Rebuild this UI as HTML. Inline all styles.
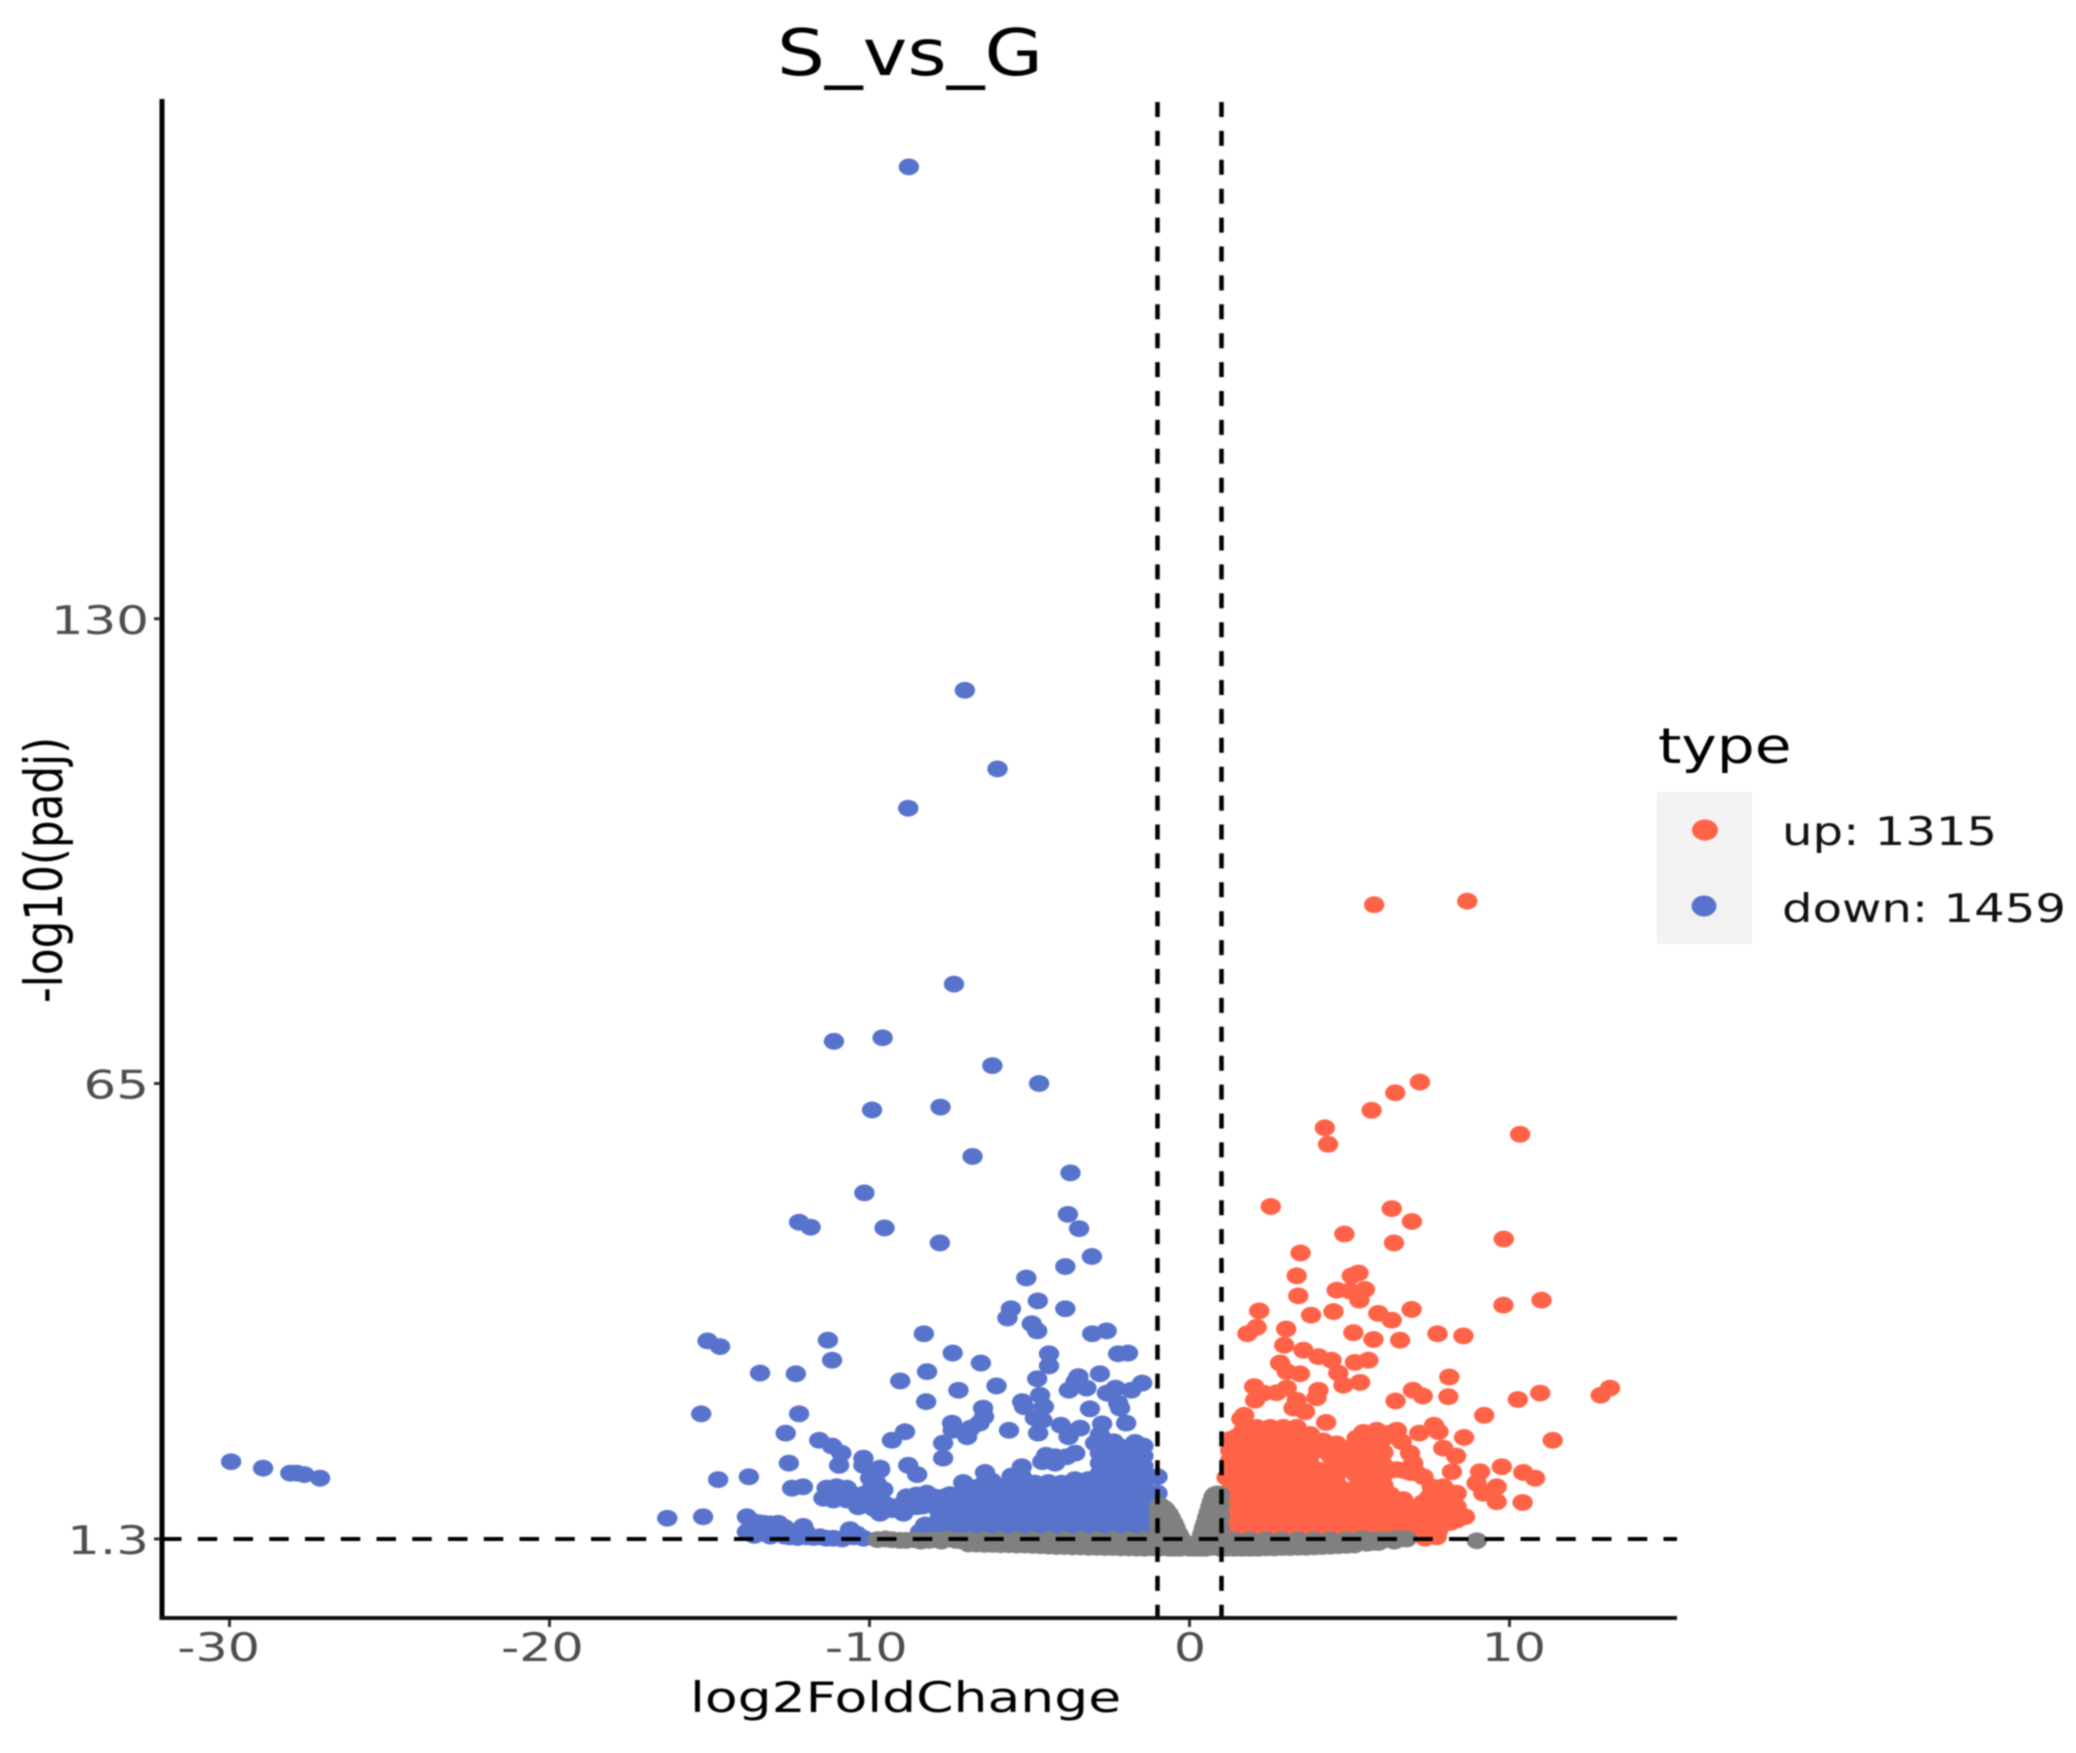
<!DOCTYPE html>
<html lang="en">
<head>
<meta charset="utf-8">
<title>S_vs_G volcano plot</title>
<style>
html,body{margin:0;padding:0;background:#fff;}
#chart{display:block;width:2076px;height:1753px;filter:blur(0.8px);}
text{font-family:"DejaVu Sans","Liberation Sans",sans-serif;}
</style>
</head>
<body>
<svg id="chart" xmlns="http://www.w3.org/2000/svg" width="2076" height="1753" viewBox="0 0 2076 1753">
  <g id="marks"></g>
  <g id="guides"></g>
  <rect x="159.5" y="99" width="5" height="1521" fill="#000"/>
  <rect x="160" y="1616" width="1517" height="4" fill="#111"/>
  <g id="axes"></g>
  <text transform="translate(777,75) scale(1.18,1)" font-size="64" fill="#000">S_vs_G</text>
  <text transform="translate(690,1712) scale(1.275,1)" font-size="42" fill="#000">log2FoldChange</text>
  <text transform="translate(62,1003) rotate(-90) scale(0.83,1)" font-size="52.6" fill="#000">-log10(padj)</text>
  <g>
    <text transform="translate(1658,763) scale(1.22,1)" font-size="49" fill="#000">type</text>
    <rect x="1657" y="792" width="95" height="152" fill="#f2f2f2"/>
    <ellipse cx="1705" cy="830" rx="13" ry="10.5" fill="#FF6347"/>
    <ellipse cx="1704" cy="906" rx="12.5" ry="10.5" fill="#5773CC"/>
    <text transform="translate(1782,845) scale(1.235,1)" font-size="39" fill="#111">up: 1315</text>
    <text transform="translate(1782,922) scale(1.235,1)" font-size="39" fill="#111">down: 1459</text>
  </g>
</svg>
<script>
const xTicks = [-30, -20, -10, 0, 10];
const xTickLabels = ['-30', '-20', '-10', '0', '10'];
const yTicks = [1.3, 65, 130];
const yTickLabels = ['1.3', '65', '130'];
const foldThresholds = [-1, 1];
const padjThreshold = 1.3;

const downPoints = [
[-8.77,193.2],[-7.02,120],[-6,109],[-8.79,103.5],[-7.36,78.9],[-11.11,70.9],[-9.59,71.4],[-6.16,67.5],[-4.7,65],[-9.92,61.3],[-7.78,61.7],[-6.78,54.8],[-3.72,52.5],[-10.16,49.7],[-3.8,46.7],[-3.45,44.7],[-12.2,45.6],[-11.84,44.9],[-9.53,44.8],[-7.8,42.7],[-3.05,40.8],[-3.88,39.4],[-5.1,37.8],[-4.74,34.6],[-3.88,33.5],[-5.58,33.5],[-5.69,32.2],[-4.93,31.4],[-4.76,30.4],[-3.04,30],[-2.59,30.4],[-8.3,30],[-15.06,29],[-14.67,28.2],[-11.3,29.1],
[-11.17,26.3],[-4.39,27.2],[-4.39,25.5],[-7.4,27.3],[-6.52,25.9],[-13.42,24.5],[-12.3,24.4],[-8.2,24.7],[-9.04,23.4],[-2.23,27.2],[-1.92,27.3],[-4.76,23.7],[-3.47,24],[-2.8,24.4],[-3.77,22.1],[-3.22,22.4],[-3.56,23.3],[-1.48,23.1],[-1.82,22.1],[-2.31,22.4],[-2.58,21.7],[-6.03,22.7],[-7.22,22.1],[-8.23,20.5],[-4.67,21.4],[-5.23,20.5],[-5.17,19.8],[-4.55,19.8],[-2.23,20.3],[-2.17,19.6],[-3.11,19.5],[-15.26,18.8],[-12.2,18.8],[-6.45,19.6],[-6.42,18.4],[-6.56,17.5],[-7.42,17.5],[-7.4,16.5],[-6.84,16.8],[-6.95,15.6],[-5.64,16.5],[-4.83,18.2],[-4.6,17.9],[-4.73,16.1],[-4.02,17.2],[-3.78,15.6],[-3.42,16.8],[-2.73,17.4],[-1.98,17.5],[-8.89,16.3],[-9.3,15.1],[-12.62,16.1],[-11.57,15.1],[-11.17,14.3],[-10.88,13.3],[-10.95,11.6],[-10.19,12.6],[-10.19,11.6],[-7.7,14.7],[-7.7,12.6],[-12.52,11.9],[-8.79,11.6],[-8.51,10.3],[-9.67,11.2],[-4.48,13],[-4.2,12.8],[-3.57,13.3],[-4.6,12.1],[-4.2,11.9],[-3.84,12.8],[-14.73,9.6],[-13.77,10],[-12.42,8.4],[-12.08,8.6],[-16.32,4.2],[-15.2,4.4],
[-29.95,12.1],[-28.95,11.2],[-28.1,10.5],[-27.9,10.5],[-27.66,10.3],[-27.17,9.8],
[-13.83,4.4],[-13.63,2.6],[-13.83,2.3],[-13.5,3.6],[-13.32,3.5],[-13.32,2.1],[-13.1,3.4],[-12.85,3.5],[-12.85,2.1],[-12.49,1.6],[-12.07,3.05],[-11.96,1.6],[-11.55,1.6],[-11.13,1.4],[-10.61,2.6],[-10.5,1.6],[-10.19,1.4],
[-11.34,8.4],[-11.03,8.6],[-10.71,8.4],[-11.44,7],[-11.13,6.75],[-10.71,6.75],[-10.4,6.75],[-10.35,5.8],[-9.98,9.8],[-9.67,10.95],[-9.78,9.1],[-9.67,7.2],[-10.09,7.7],[-9.67,4.9],[-9.88,5.6],[-9.46,6.05],[-9.57,8.2],
[-8.94,4.9],[-8.84,7.2],[-8.53,7.45],[-8.21,7.7],[-8,7.2],[-8.94,6.3],[-8.53,5.8],[-9.15,5.8],[-8.21,6.05],[-7.8,6.75],[-7.8,4.9],[-8.26,3.25],[-7.9,2.8],[-8.42,2.3],[-8,2.1],
[-7.48,7.5],[-7.48,6.1],[-7.48,4.7],[-7.48,3.3],[-7.48,2.2],
[-7.07,9.2],[-7.07,7.8],[-7.07,6.4],[-7.07,5],[-7.07,3.6],[-7.07,2.2],
[-6.65,8.5],[-6.65,7.1],[-6.65,5.7],[-6.65,4.3],[-6.65,2.9],[-6.65,2.2],
[-6.39,10.6],[-6.39,9.2],[-6.39,7.8],[-6.39,6.4],[-6.39,5],[-6.39,3.6],[-6.39,2.2],
[-5.97,8.7],[-5.97,7.3],[-5.97,5.9],[-5.97,4.5],[-5.97,3.1],[-5.97,2.2],
[-5.56,10.1],[-5.56,8.7],[-5.56,7.3],[-5.56,5.9],[-5.56,4.5],[-5.56,3.1],[-5.56,2.2],
[-5.24,11.4],[-5.24,10],[-5.24,8.6],[-5.24,7.2],[-5.24,5.8],[-5.24,4.4],[-5.24,3],[-5.24,2.2],
[-4.83,9.1],[-4.83,7.7],[-4.83,6.3],[-4.83,4.9],[-4.83,3.5],[-4.83,2.2],
[-4.41,9.2],[-4.41,7.8],[-4.41,6.4],[-4.41,5],[-4.41,3.6],[-4.41,2.2],
[-4,9.1],[-4,7.7],[-4,6.3],[-4,4.9],[-4,3.5],[-4,2.2],
[-3.58,9.6],[-3.58,8.2],[-3.58,6.8],[-3.58,5.4],[-3.58,4],[-3.58,2.6],
[-3.16,9.6],[-3.16,8.2],[-3.16,6.8],[-3.16,5.4],[-3.16,4],[-3.16,2.6],
[-2.8,15.9],[-2.95,14.7],[-2.8,13.3],[-2.8,11.9],[-2.8,10.5],[-2.8,9.1],[-2.8,7.7],[-2.8,6.3],[-2.8,4.9],[-2.8,3.5],[-2.8,2.2],
[-2.37,14.9],[-2.37,13.5],[-2.37,12.1],[-2.37,10.7],[-2.37,9.3],[-2.37,7.9],[-2.37,6.5],[-2.37,5.1],[-2.37,3.7],[-2.37,2.3],
[-1.96,13.4],[-1.96,12],[-1.96,10.6],[-1.96,9.2],[-1.96,7.8],[-1.96,6.4],[-1.96,5],[-1.96,3.6],[-1.96,2.3],
[-1.7,14.8],[-1.7,13.4],[-1.7,12],[-1.7,10.6],[-1.7,9.2],[-1.7,7.8],[-1.7,6.4],[-1.7,5],[-1.7,3.6],[-1.7,2.3],
[-1.44,14.3],[-1.44,12.9],[-1.44,11.5],[-1.44,10.1],[-1.44,8.7],[-1.44,7.3],[-1.44,5.9],[-1.44,4.5],[-1.44,3.1],[-1.44,2.3],
[-1,10],[-1,7.7]
];

const downDensePoints = [
[-7.28,6.8],[-7.28,5.4],[-7.28,4],[-7.28,2.6],[-6.86,8.4],[-6.86,7],[-6.86,5.6],[-6.86,4.2],[-6.86,2.8],
[-6.18,9.4],[-6.18,8],[-6.18,6.6],[-6.18,5.2],[-6.18,3.8],[-6.18,2.4],[-5.76,8],[-5.76,6.6],[-5.76,5.2],[-5.76,3.8],[-5.76,2.4],
[-5.4,9],[-5.4,7.6],[-5.4,6.2],[-5.4,4.8],[-5.4,3.4],[-5.03,8],[-5.03,6.6],[-5.03,5.2],[-5.03,3.8],[-5.03,2.4],
[-4.62,8.4],[-4.62,7],[-4.62,5.6],[-4.62,4.2],[-4.62,2.8],[-4.2,8.4],[-4.2,7],[-4.2,5.6],[-4.2,4.2],[-4.2,2.8],[-3.8,8.4],[-3.8,7],[-3.8,5.6],[-3.8,4.2],[-3.8,2.8],
[-3.37,8.9],[-3.37,7.5],[-3.37,6.1],[-3.37,4.7],[-3.37,3.3],[-3.37,2.2],[-2.98,8.9],[-2.98,7.5],[-2.98,6.1],[-2.98,4.7],[-2.98,3.3],[-2.98,2.2],
[-2.58,14],[-2.58,12.6],[-2.58,11.2],[-2.58,9.8],[-2.58,8.4],[-2.58,7],[-2.58,5.6],[-2.58,4.2],[-2.58,2.8],
[-2.16,14.2],[-2.16,12.8],[-2.16,11.4],[-2.16,10],[-2.16,8.6],[-2.16,7.2],[-2.16,5.8],[-2.16,4.4],[-2.16,3],
[-1.83,14.1],[-1.83,12.7],[-1.83,11.3],[-1.83,9.9],[-1.83,8.5],[-1.83,7.1],[-1.83,5.7],[-1.83,4.3],[-1.83,3],
[-1.55,13.6],[-1.55,12.2],[-1.55,10.8],[-1.55,9.4],[-1.55,8],[-1.55,6.6],[-1.55,5.2],[-1.55,3.8],
[-8.7,6.6],[-8.35,7],[-8.35,5.9],[-8.1,6.8],[-7.65,7.2],[-7.65,5.6],[-7.65,3.5],[-7.65,2.3],[-7.95,3.4],[-8.2,2.6],
[-11.2,7.7],[-10.9,7.6],[-10.55,7.6],[-10.2,7.5],[-10.2,6.3],[-9.9,8.6],[-9.8,7.4],[-9.6,5.2],[-9.3,5.4],
[-13.65,3.6],[-13.6,1.8],[-13.1,1.7],[-12.65,2.9],[-12.65,1.7],[-12.25,1.5],[-11.75,1.5],[-11.35,1.4],[-10.85,1.3],[-10.4,2],[-12,2.3],[-13.1,2.6]
];

const upPoints = [
[5.77,90],[8.68,90.5],[7.2,65.2],[6.43,63.7],[5.69,61.25],[4.23,58.8],[4.33,56.5],[10.33,57.9],[2.54,47.8],[6.32,47.5],[6.95,45.7],[4.84,43.95],[6.39,42.7],[9.82,43.25],[3.47,41.3],
[3.35,38.1],[3.4,35.3],[5.28,38.5],[5.07,38.1],[4.6,36.1],[5,36],[5.48,36.2],[5.31,34.7],[2.18,33.2],[3.8,32.6],[4.5,33.1],[5.9,32.85],[6.32,31.9],[6.94,33.4],[9.81,34],[11,34.7],[2.1,30.9],[1.81,30],[3.02,30.66],[5.12,30.15],[5.75,29.2],[6.58,29.1],[7.75,30],[8.56,29.7],[2.96,28.4],[3.56,27.7],[4.03,26.8],[4.44,26.3],[5.17,26],[5.59,26.3],[2.83,25.9],[3.04,24.7],[3.45,24.4],[4.65,24.5],[4.81,22.8],[5.33,23.2],[8.12,23.95],[2.02,22.6],[2.31,21.7],[2.72,21.75],[3.04,22.4],[2.05,20.7],[3.35,20.7],[4.03,22.1],[3.97,21.05],[3.25,19.6],[3.61,19.1],[6.98,22.1],[7.29,21.3],[6.44,20.6],[8.09,21.2],[10.26,20.8],[10.96,21.7],[13.14,22.4],[12.85,21.4],[9.21,18.6],[1.71,18.6],[1.62,18.1],[4.27,17.6],[11.35,15.1],[8.58,15.5],[7.64,17.2],[7.18,16.1],[7.78,16.3],[7.93,14],[8.33,12.9],[8.2,10.7],[9.76,11.4],[10.43,10.6],[10.8,9.8],[10.41,6.4],[9.6,6.5],[9.08,10.7],[9.6,8.6],[8.97,9.1],[9.18,7.7],[8.61,4.4],[8.35,3.95],[7.78,2.55],[7.36,1.4],[7.73,1.6],
[1.27,15.2],[1.27,13.7],[1.27,12.3],[1.27,10.9],[1.27,9.5],[1.27,8.1],[1.27,6.7],[1.27,5.3],[1.27,4],[1.27,2.5],[1.16,9.9],
[1.68,16.4],[1.68,15.1],[1.68,13.7],[1.68,12.3],[1.68,10.9],[1.68,9.5],[1.68,8.1],[1.68,6.7],[1.68,5.3],[1.68,4],[1.68,2.5],
[2.1,16.9],[2.1,15.5],[2.1,14.1],[2.1,12.7],[2.1,11.3],[2.1,9.9],[2.1,8.5],[2.1,7.1],[2.1,5.7],[2.1,4.3],[2.1,2.9],
[2.52,16.9],[2.52,15.5],[2.52,14.1],[2.52,12.7],[2.52,11.3],[2.52,9.9],[2.52,8.5],[2.52,7.1],[2.52,5.7],[2.52,4.3],[2.52,2.9],
[2.93,16.9],[2.93,15.5],[2.93,14.1],[2.93,12.7],[2.93,11.3],[2.93,9.9],[2.93,8.5],[2.93,7.1],[2.93,5.7],[2.93,4.3],[2.93,2.9],
[3.35,16.9],[3.35,15.5],[3.35,14.1],[3.35,12.7],[3.35,11.3],[3.35,9.9],[3.35,8.5],[3.35,7.1],[3.35,5.7],[3.35,4.3],[3.35,2.9],
[3.77,15.9],[3.77,14.5],[3.77,13.1],[3.77,11.7],[3.77,10.3],[3.77,8.9],[3.77,7.5],[3.77,6.1],[3.77,4.7],[3.77,3.3],[3.77,2.5],
[4.18,15],[4.18,13.7],[4.18,10.9],[4.18,9.5],[4.18,8.1],[4.18,6.7],[4.18,5.3],[4.18,4],[4.18,2.5],
[4.6,14.6],[4.6,13.2],[4.6,11.8],[4.6,10.4],[4.6,9],[4.6,7.6],[4.6,6.2],[4.6,4.8],[4.6,3.4],[4.6,2.5],
[5.02,14],[5.02,12.5],[5.02,10.9],[5.02,8.1],[5.02,6.7],[5.02,5.3],[5.02,4],[5.02,2.5],
[5.43,16.2],[5.43,14.6],[5.43,13.2],[5.43,11.8],[5.43,10.4],[5.43,9],[5.43,7.6],[5.43,6.2],[5.43,4.8],[5.43,3.4],[5.43,2.5],
[5.85,16.5],[5.85,14.2],[5.85,12.8],[5.85,11.4],[5.85,10],[5.85,8.6],[5.85,7.2],[5.85,5.8],[5.85,4.4],[5.85,3],[5.85,2.5],
[6.27,16.1],[6.27,10.9],[6.27,7.5],[6.27,6],[6.27,4.6],[6.27,3.2],
[6.48,16.5],[6.63,14.9],[6.89,13.3],[6.99,11.9],[7.31,10],[7.57,8.6],
[6.68,10.9],[6.68,6.8],[6.68,5.4],[6.68,4],[6.68,2.6],
[7.1,10.5],[7.1,5.4],[7.1,4],[7.1,2.6],
[7.5,7.2],[7.5,5.4],[7.5,4],
[7.93,8.6],[7.93,6.7],[7.93,5.4],[7.93,4],
[8.35,7.7],[8.35,5.8],[8.35,4.4]
];

const upDensePoints = [
[1.48,15.6],[1.48,14.2],[1.48,12.8],[1.48,11.4],[1.48,10],[1.48,8.6],[1.48,7.2],[1.48,5.8],[1.48,4.4],[1.48,3],
[1.9,15.8],[1.9,14.4],[1.9,13],[1.9,11.6],[1.9,10.2],[1.9,8.8],[1.9,7.4],[1.9,6],[1.9,4.6],[1.9,3.2],
[2.31,16.2],[2.31,14.8],[2.31,13.4],[2.31,12],[2.31,10.6],[2.31,9.2],[2.31,7.8],[2.31,6.4],[2.31,5],[2.31,3.6],
[2.72,16.2],[2.72,14.8],[2.72,13.4],[2.72,12],[2.72,10.6],[2.72,9.2],[2.72,7.8],[2.72,6.4],[2.72,5],[2.72,3.6],
[3.14,16.2],[3.14,14.8],[3.14,13.4],[3.14,12],[3.14,10.6],[3.14,9.2],[3.14,7.8],[3.14,6.4],[3.14,5],[3.14,3.6],
[3.56,15.4],[3.56,14],[3.56,12.6],[3.56,11.2],[3.56,9.8],[3.56,8.4],[3.56,7],[3.56,5.6],[3.56,4.2],[3.56,2.8],
[3.98,14.2],[3.98,10.4],[3.98,9],[3.98,7.6],[3.98,6.2],[3.98,4.8],[3.98,3.4],
[4.4,14.4],[4.4,13],[4.4,10.2],[4.4,8.8],[4.4,7.4],[4.4,6],[4.4,4.6],[4.4,3.2],
[4.8,13.6],[4.8,12.2],[4.8,11],[4.8,7.4],[4.8,6],[4.8,4.6],[4.8,3.2],
[5.22,15.4],[5.22,13.4],[5.22,12],[5.22,10.2],[5.22,7.4],[5.22,6],[5.22,4.6],[5.22,3.2],
[5.64,15.4],[5.64,13.4],[5.64,11.9],[5.64,10.7],[5.64,9.3],[5.64,7.9],[5.64,6.5],[5.64,5.1],[5.64,3.7],
[6.06,15.4],[6.06,13.4],[6.06,11.6],[6.06,10.3],[6.06,8.8],[6.06,6.7],[6.06,5.3],[6.06,3.9],
[6.47,11],[6.47,6.2],[6.47,4.8],[6.47,3.4],[6.47,2.6],
[6.9,10.6],[6.9,5],[6.9,3.5],[6.9,2.6],
[7.3,6.4],[7.3,4.7],[7.3,3.3],[7.3,2.4],
[7.7,7.6],[7.7,6.1],[7.7,4.7],[7.7,3.2],
[8.15,7],[8.15,5],[8.15,3.6]
];

const grayPoints = [
[-9.75,1.2],[-9.3,1.2],[-8.85,1.1],[-8.4,1],[-7.95,1.2],[-7.55,1.3],[-7.1,1],
[-6.9,1.2],[-6.9,0.6],[-6.4,1.2],[-6.4,0.55],[-5.9,1.2],[-5.9,0.5],[-5.4,1.2],[-5.4,0.45],[-4.9,1.2],[-4.9,0.4],[-4.4,1.2],[-4.4,0.3],[-3.9,1.2],[-3.9,0.25],[-3.4,1.2],[-3.4,0.2],[-2.9,1.2],[-2.9,0.15],[-2.4,1.2],[-2.4,0.1],[-1.9,1.2],[-1.9,0.05],[-1.4,1.2],[-1.4,0],
[-0.95,5.8],[-0.95,4.6],[-0.95,3.4],[-0.95,2.2],[-0.95,1.2],[-0.95,0],
[-0.8,5.6],[-0.8,4],[-0.8,2.5],[-0.8,0.8],
[-0.65,4.8],[-0.65,3.2],[-0.65,1.6],[-0.65,0],
[-0.5,3.5],[-0.5,2],[-0.5,0.4],
[-0.4,2.4],[-0.4,0.8],[-0.3,1.6],[-0.3,0],[-0.2,0.9],[-0.1,0.3],[0,0],[0.1,0.2],[0.2,0.6],
[0.3,1],[0.3,0],[0.4,2],[0.4,0.4],[0.5,3.5],[0.5,1.8],[0.5,0],[0.6,5],[0.6,3],[0.6,1.2],
[0.7,6.5],[0.7,4.8],[0.7,3],[0.7,1],
[0.8,7.5],[0.8,5.6],[0.8,3.8],[0.8,2],[0.8,0.2],
[0.95,7.5],[0.95,6],[0.95,4.5],[0.95,3],[0.95,1.5],[0.95,0],
[1.4,1.2],[1.4,0],[1.9,1.2],[1.9,0],[2.4,1.2],[2.4,0.05],[2.9,1.2],[2.9,0.1],[3.4,1.2],[3.4,0.15],[3.9,1.2],[3.9,0.2],[4.4,1.2],[4.4,0.3],[4.9,1.2],[4.9,0.4],[5.3,1.2],[5.54,0.7],[5.5,1.3],[5.9,1.2],[5.9,0.8],[6.4,1.3],[6.4,1],[6.79,1.3],[8.98,1.05]
];

const grayDensePoints = [
[-9.5,1.3],[-9.05,1.1],[-8.6,1.2],[-8.15,1.1],[-7.75,1],[-7.3,1.1],
[-6.65,0.9],[-6.15,0.85],[-5.65,0.8],[-5.15,0.7],[-4.65,0.7],[-4.15,0.6],[-3.65,0.6],[-3.15,0.5],[-2.65,0.5],[-2.15,0.5],[-1.65,0.4],[-1.15,0.6],
[-1.15,0.05],[-1.65,0.02],[-2.15,0.05],[-2.65,0.1],[-3.15,0.15],[-3.65,0.2],[-4.15,0.25],[-4.65,0.35],[-5.15,0.45],[-5.65,0.5],[-6.15,0.55],[-6.65,0.6],
[1.15,0.6],[1.15,0],[1.65,0.5],[1.65,0],[2.15,0.5],[2.15,0],[2.65,0.5],[2.65,0.05],[3.15,0.6],[3.15,0.1],[3.65,0.6],[3.65,0.15],[4.15,0.7],[4.15,0.25],[4.65,0.8],[4.65,0.35],[5.15,0.9],[5.15,0.45],[5.7,1.1],[5.7,0.8],[6.15,1.2],[6.6,1.3],
[-0.9,5.9],[-0.88,4.4],[-0.88,3],[-0.88,1.6],[-0.75,5.4],[-0.72,3.6],[-0.72,2],[-0.58,4.2],[-0.58,2.6],[-0.58,1],[-0.45,3],[-0.35,2],
[0.45,2.8],[0.55,4.3],[0.55,2.4],[0.65,5.8],[0.65,3.8],[0.65,1.8],[0.75,7.2],[0.75,5],[0.88,7.6],[0.88,6.6],[0.88,5],[0.88,3.5],[0.88,1.8],[0.88,0.4],
[-0.25,0.5],[0.25,0.4],[-0.15,0.1],[0.15,0],[-0.75,0.4],[0.65,0.1],[-0.5,0],[0.4,0]
];

const X_ZERO = 1189.5, X_UNIT = 32, LABEL_ZERO = 1190, LABEL_UNIT = 32.38;
const Y_REF = 1083.5, Y_REF_VALUE = 65, Y_UNIT = 7.15;
function xScale(v){ return X_ZERO + X_UNIT * v; }
function xLabelScale(v){ return LABEL_ZERO + LABEL_UNIT * v; }
function yScale(v){ return Y_REF - (v - Y_REF_VALUE) * Y_UNIT; }

const NS = 'http://www.w3.org/2000/svg';
const marks = document.getElementById('marks');
const guides = document.getElementById('guides');
const axes = document.getElementById('axes');

function drawSeries(points, color, markName){
  points.forEach(function(p){
    const el = document.createElementNS(NS, 'ellipse');
    
    
    el.setAttribute('cx', xScale(p[0]));
    el.setAttribute('cy', yScale(p[1]));
    el.setAttribute('rx', 10.2);
    el.setAttribute('ry', 8.4);
    el.setAttribute('fill', color);
    marks.appendChild(el);
  });
}
drawSeries(downPoints, '#5773CC', 'point-down');
drawSeries(downDensePoints, '#5773CC', 'point-down');
drawSeries(upPoints, '#FF6347', 'point-up');
drawSeries(upDensePoints, '#FF6347', 'point-up');
drawSeries(grayPoints, '#808080', 'point-not-significant');
drawSeries(grayDensePoints, '#808080', 'point-not-significant');

foldThresholds.forEach(function(v){
  const el = document.createElementNS(NS, 'line');
  
  
  el.setAttribute('x1', xScale(v));
  el.setAttribute('x2', xScale(v));
  el.setAttribute('y1', 102);
  el.setAttribute('y2', 1616);
  el.setAttribute('stroke', '#000');
  el.setAttribute('stroke-width', 4.5);
  el.setAttribute('stroke-dasharray', '15 13.9');
  guides.appendChild(el);
});

const hLine = document.createElementNS(NS, 'line');


hLine.setAttribute('x1', 162);
hLine.setAttribute('x2', 1677);
hLine.setAttribute('y1', yScale(padjThreshold));
hLine.setAttribute('y2', yScale(padjThreshold));
hLine.setAttribute('stroke', '#000');
hLine.setAttribute('stroke-width', 4);
hLine.setAttribute('stroke-dasharray', '19.5 16.25');
guides.appendChild(hLine);

xTicks.forEach(function(v, i){
  const tick = document.createElementNS(NS, 'line');
  
  
  tick.setAttribute('x1', xScale(v));
  tick.setAttribute('x2', xScale(v));
  tick.setAttribute('y1', 1620);
  tick.setAttribute('y2', 1627);
  tick.setAttribute('stroke', '#333');
  tick.setAttribute('stroke-width', 3);
  axes.appendChild(tick);
  const label = document.createElementNS(NS, 'text');
  
  
  label.setAttribute('transform', 'translate(' + xLabelScale(v) + ',1661) scale(1.3,1)');
  label.setAttribute('text-anchor', 'middle');
  label.setAttribute('font-size', 39);
  label.setAttribute('fill', '#4d4d4d');
  label.textContent = xTickLabels[i];
  axes.appendChild(label);
});

yTicks.forEach(function(v, i){
  const tick = document.createElementNS(NS, 'line');
  
  
  tick.setAttribute('x1', 154);
  tick.setAttribute('x2', 160);
  tick.setAttribute('y1', yScale(v));
  tick.setAttribute('y2', yScale(v));
  tick.setAttribute('stroke', '#333');
  tick.setAttribute('stroke-width', 3);
  axes.appendChild(tick);
  const label = document.createElementNS(NS, 'text');
  
  
  label.setAttribute('transform', 'translate(149,' + (yScale(v) + 15) + ') scale(1.3,1)');
  label.setAttribute('text-anchor', 'end');
  label.setAttribute('font-size', 39.6);
  label.setAttribute('fill', '#4d4d4d');
  label.textContent = yTickLabels[i];
  axes.appendChild(label);
});
</script>
</body>
</html>
